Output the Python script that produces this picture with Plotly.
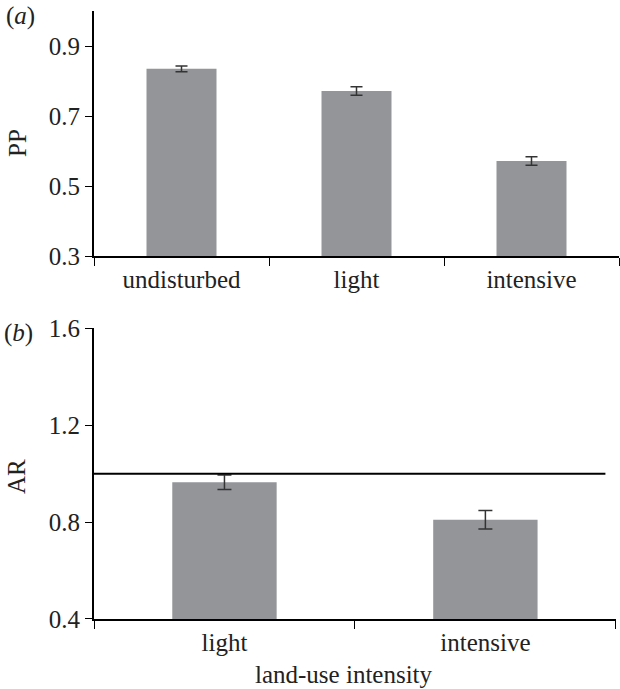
import plotly.graph_objects as go

# Panel (a)
pp_categories = ["undisturbed", "light", "intensive"]
pp_values = [0.835, 0.772, 0.572]
pp_errors = [0.008, 0.012, 0.012]

# Panel (b)
ar_categories = ["light", "intensive"]
ar_values = [0.965, 0.81]
ar_errors = [0.03, 0.038]
ar_reference = 1.0

FONT = "'Liberation Serif', 'Times New Roman', Times, serif"
BAR = "#939598"
ERR = "#333333"
TXT = "#222222"

fig = go.Figure()
fig.add_trace(go.Bar(
    x=pp_categories, y=pp_values, width=0.4, marker_color=BAR,
    marker_line_width=0,
    error_y=dict(type="data", array=pp_errors, color=ERR, thickness=1.5, width=6),
    xaxis="x", yaxis="y", showlegend=False))
fig.add_trace(go.Bar(
    x=ar_categories, y=ar_values, width=0.4, marker_color=BAR,
    marker_line_width=0,
    error_y=dict(type="data", array=ar_errors, color=ERR, thickness=1.5, width=7),
    xaxis="x2", yaxis="y2", showlegend=False))

fig.add_shape(type="line", xref="x2 domain", yref="y2", x0=0, x1=0.98,
              y0=ar_reference, y1=ar_reference, line=dict(color="black", width=2))

axis_common = dict(showline=True, linecolor="black", linewidth=2, showgrid=False,
                   zeroline=False, ticks="outside", tickcolor="black", automargin=False,
                   tickfont=dict(family=FONT, size=25, color=TXT))

fig.update_layout(
    width=620, height=689,
    margin=dict(l=94, r=1, t=11, b=70),
    paper_bgcolor="white", plot_bgcolor="white",
    font=dict(family=FONT, color=TXT),
    xaxis=dict(domain=[0, 1], anchor="y", tickson="boundaries", ticklen=8,
               range=[-0.5, 2.5], **axis_common),
    yaxis=dict(domain=[0.5964, 1], anchor="x", range=[0.3, 1.0],
               tickvals=[0.3, 0.5, 0.7, 0.9], ticktext=["0.3", "0.5", "0.7", "0.9"],
               ticklen=7, **axis_common),
    xaxis2=dict(domain=[0, 0.994], anchor="y2", tickson="boundaries", ticklen=8,
                range=[-0.5, 1.5], **axis_common),
    yaxis2=dict(domain=[0, 0.4778], anchor="x2", range=[0.4, 1.6],
                tickvals=[0.4, 0.8, 1.2, 1.6], ticktext=["0.4", "0.8", "1.2", "1.6"],
                ticklen=7, **axis_common),
)

def label(text, x, y, rot=0, xa="center"):
    fig.add_annotation(text=text, xref="paper", yref="paper", x=x, y=y,
                       xanchor=xa, yanchor="middle", showarrow=False, textangle=rot,
                       font=dict(family=FONT, size=25, color=TXT))

W, H = 620, 689
def px(xp): return (xp - 94) / (W - 95)
def py(yp): return (H - 70 - yp) / (H - 81)

label("(<i>a</i>)", px(4), py(16), xa="left")
label("(<i>b</i>)", px(2), py(333), xa="left")
label("PP", px(18), py(143), rot=-90)
label("AR", px(16), py(477), rot=-90)
label("land-use intensity", px(344), py(674))

fig.write_html("out.html", config={"displayModeBar": False},
               post_script="document.body.style.margin='0';document.body.style.padding='0';")
